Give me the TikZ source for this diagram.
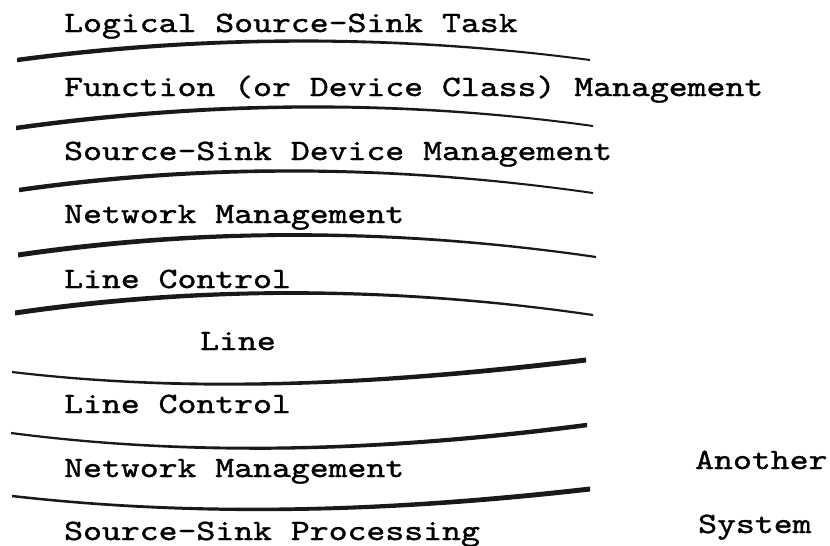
\documentclass[tikz,border=0pt]{standalone}
\usepackage{fontspec}
\newfontfamily\twfont{lmmono10-regular.otf}[FakeStretch=1.22,FakeBold=1.2]
\begin{document}
\begin{tikzpicture}[x=1pt,y=-1pt,
  layertext/.style={anchor=base west,inner sep=0pt,font=\twfont\fontsize{29.5}{35}\selectfont},
  inkline/.style={fill=black!90}]
\useasboundingbox (0,0) rectangle (830,546);
% layer texts
\node[layertext] (t1) at (64,32)  {Logical Source-Sink Task};
\node[layertext] (t2) at (64,96)  {Function (or Device Class) Management};
\node[layertext] (t3) at (64,160) {Source-Sink Device Management};
\node[layertext] (t4) at (64,223) {Network Management};
\node[layertext] (t5) at (64,288) {Line Control};
\node[layertext] (t6) at (200,350) {Line};
\node[layertext] (t7) at (64,413) {Line Control};
\node[layertext] (t8) at (64,477) {Network Management};
\node[layertext] (t9) at (64,540) {Source-Sink Processing};
\node[layertext] (a1) at (695,469) {Another};
\node[layertext] (a2) at (698,533) {System};
% separating ink lines: lx/ly, rx/ry, bend k, thickness left tl, right tr
\foreach \lx/\ly/\rx/\ry/\k/\tl/\tr in {
  17/60/590/60/-25.3/4.5/2,
  16/128/593/126/-26.7/4.5/2,
  19/190/593/193/-27.3/4.5/2,
  18/255/596/257/-28/5/2.2,
  15/313/593/315/-28/5/2.2,
  12/372/586/360/22.7/2.2/5,
  11/433/587/425/25/2.2/4.5,
  12/496/590/489/22/2.5/5}{
  \fill[inkline] (\lx,{\ly-\tl/2})
    .. controls ({\lx+(\rx-\lx)/3},{\ly+\k-\tl/2}) and ({\lx+2*(\rx-\lx)/3},{\ry+\k-\tr/2}) ..
    (\rx,{\ry-\tr/2}) -- (\rx,{\ry+\tr/2})
    .. controls ({\lx+2*(\rx-\lx)/3},{\ry+\k+\tr/2}) and ({\lx+(\rx-\lx)/3},{\ly+\k+\tl/2}) ..
    (\lx,{\ly+\tl/2}) -- cycle;
}
\end{tikzpicture}
\end{document}
